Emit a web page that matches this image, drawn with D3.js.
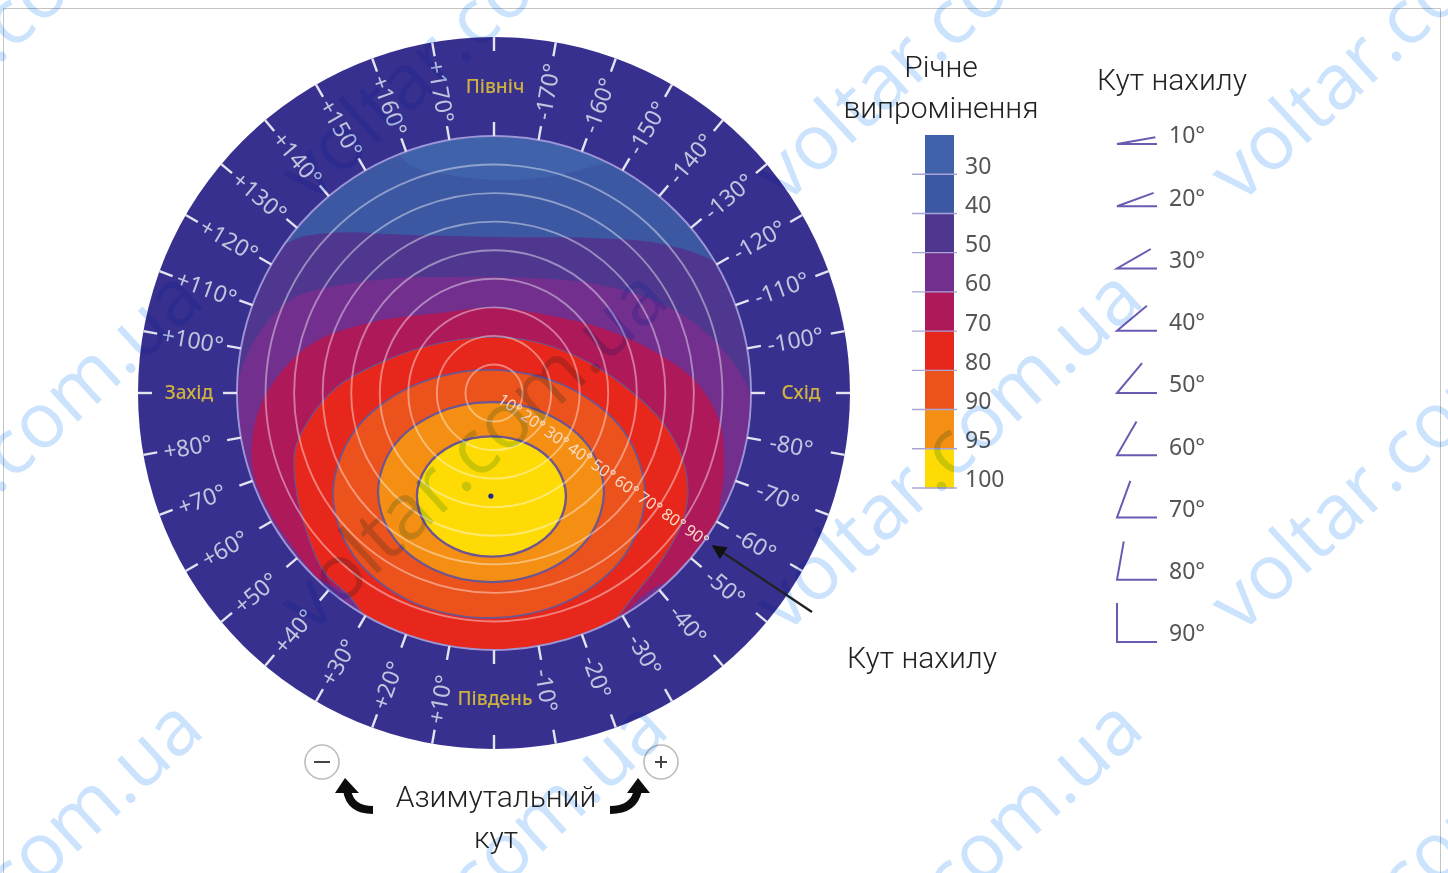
<!DOCTYPE html>
<html lang="uk">
<head>
<meta charset="utf-8">
<title>Річне випромінення</title>
<script src="https://cdn.jsdelivr.net/npm/d3@7"></script>
<style>
html,body{margin:0;padding:0;background:#fff;overflow:hidden}
svg{display:block}
text{font-family:"Noto Sans","Open Sans",sans-serif}
.head{font-family:"Roboto",sans-serif;font-weight:300;font-size:30px;fill:#222}
.soft{filter:blur(.55px)}
.wm{font-family:"Open Sans",sans-serif;font-size:77px;fill:#cbe3fd;mix-blend-mode:multiply}
</style>
</head>
<body>
<div id="chart"></div>
<script>
// ---------- data ----------
const tiltRings = [10, 20, 30, 40, 50, 60, 70, 80, 90];
const azimuthTicks = d3.range(-170, 190, 10);
const compass = [
  {az: 180, name: "Північ"}, {az: 90, name: "Захід"},
  {az: -90, name: "Схід"},   {az: 0, name: "Південь"}
];
const legendValues = [30, 40, 50, 60, 70, 80, 90, 95, 100];
const legendColors = ["#3f62aa", "#3c58a3", "#4f378f", "#722f8e", "#ae1959", "#e7271b", "#ec521c", "#f58f13", "#ffdb05"];

// contours: [east tilt component, south tilt component], degrees
const band30 = [[-31.2,-81.2],[-15.4,-76.3],[0,-74.6],[16.1,-75.3],[33.6,-79.1],[41.3,-82.3],[44.1,-102.6],[0,-109.6],[-39.9,-102.6]];
const band50 = [[0.4,-54.6],[33.6,-54.3],[57.1,-52.5],[78.1,-45.5],[103.6,-22.1],[107.1,37.5],[72.1,107.5],[0.4,114.5],[-71.4,107.5],[-106.4,37.5],[-102.9,-22.1],[-72.5,-52.5],[-57.4,-56],[-29.4,-55.3]];
const band60 = [[0.4,-40.6],[33.6,-38.5],[58.1,-31.5],[73.2,-22.1],[82.6,-12.3],[89.6,-0.4],[98.4,30.5],[72.1,93.5],[0.4,107.5],[-71.4,93.5],[-97.7,30.5],[-91.7,2.5],[-84.4,-17.5],[-71.4,-32.6],[-57.4,-37.1],[-34,-40.3],[-17.2,-40.6]];
const band70 = [[0.4,-29.8],[22.1,-26.6],[39.6,-22.1],[57.1,-14],[71.1,-3.5],[79.1,10.5],[80.5,27],[79.1,39.2],[77,53.2],[68.6,63.7],[58.1,67.2],[51.1,71.8],[37.1,86.5],[0.4,97],[-32.9,86.5],[-52.2,69.7],[-57.4,67.2],[-62,64.4],[-70.4,53.9],[-78.4,42],[-84.4,27],[-83.7,10.5],[-77.4,-3.5],[-63.4,-17.5],[-42.4,-24.9],[-18.9,-28]];
const band80 = [[0.4,-19.6],[16.1,-17.5],[33.6,-10.5],[48.7,0],[59.2,10.5],[66.2,23.5],[67.9,35.7],[65.8,45.5],[58.1,59.5],[48.7,71.4],[38.9,83.7],[23.1,97],[0.4,104],[-25.9,97],[-41.7,83],[-50.4,71.4],[-59.9,62],[-66.9,44.5],[-69.7,30.5],[-69.7,20],[-65.5,10.5],[-55,-2.1],[-37.5,-11.6],[-18.9,-17.5]];
const band90 = [[52.9,35.4],[45.5,13.5],[25.6,-2.2],[-1.8,-8.1],[-29.1,-2.2],[-49,13.5],[-56.4,35.4],[-49,57.2],[-29.1,73],[-1.8,78.8],[25.6,73],[45.5,57.2]];
const band95 = [[38.5,34.7],[33.3,18.9],[18.7,7.4],[-1.1,3.2],[-20.8,7.4],[-35.4,18.9],[-40.6,34.7],[-35.4,50.4],[-20.8,62],[-1.1,66.2],[18.7,62],[33.3,50.4]];
const band100 = [[25.2,36.2],[21.7,25.7],[12.3,18],[-0.9,15.2],[-14,18],[-23.5,25.7],[-27,36.2],[-23.5,46.7],[-14,54.4],[-0.9,57.3],[12.3,54.4],[21.7,46.7]];
const optimum = [-1.1, 36.1];
const watermarkX = [-155, 310, 785, 1240];
const watermarkY = [205, 635, 1065];

// ---------- layout ----------
const W = 1448, H = 873, cx = 494, cy = 393, R = 356, Ri = 257;
const rScale = d3.scaleLinear().domain([0, 90]).range([0, Ri]);
const xT = d3.scaleLinear().domain([-90, 90]).range([cx - Ri, cx + Ri]);
const yT = d3.scaleLinear().domain([-90, 90]).range([cy - Ri, cy + Ri]);
const rad = d => d * Math.PI / 180;
const polar = (az, r) => [cx - r * Math.sin(rad(az)), cy + r * Math.cos(rad(az))];

const svg = d3.select("#chart").append("svg").attr("width", W).attr("height", H).attr("viewBox", `0 0 ${W} ${H}`);

// frame
svg.append("path").attr("d", `M3.5 ${H} V8.5 H1440.5 V${H}`).attr("fill", "none").attr("stroke", "#c4c4c4").attr("stroke-width", 1);

const defs = svg.append("defs");
defs.append("clipPath").attr("id", "inner").append("circle").attr("cx", cx).attr("cy", cy).attr("r", Ri);
defs.append("marker").attr("id", "head").attr("viewBox", "0 0 10 10").attr("refX", 9).attr("refY", 5)
  .attr("markerWidth", 6.5).attr("markerHeight", 6).attr("markerUnits", "strokeWidth").attr("orient", "auto")
  .append("path").attr("d", "M0 0 L10 5 L0 10 Z").attr("fill", "#111");

const dial = svg.append("g").attr("class", "soft");
dial.append("circle").attr("cx", cx).attr("cy", cy).attr("r", R).attr("fill", "#38308f");

// contours
const closed = d3.line().x(d => xT(d[0])).y(d => yT(d[1])).curve(d3.curveCatmullRomClosed.alpha(0.5));
const plate = dial.append("g").attr("clip-path", "url(#inner)");
plate.append("circle").attr("cx", cx).attr("cy", cy).attr("r", Ri).attr("fill", legendColors[1]);
const bands = [
  {pts: band30, c: legendColors[0]},
  {pts: band50, c: legendColors[2]},
  {pts: band60, c: legendColors[3]},
  {pts: band70, c: legendColors[4]},
  {pts: band80, c: legendColors[5], line: 1.2},
  {pts: band90, c: legendColors[6], line: 1.8},
  {pts: band95, c: legendColors[7], line: 2.2},
  {pts: band100, c: legendColors[8], line: 2.4}
];
plate.selectAll("path.band").data(bands).join("path").attr("class", "band")
  .attr("d", d => closed(d.pts)).attr("fill", d => d.c)
  .attr("stroke", d => d.line ? "#6d5590" : "none").attr("stroke-width", d => d.line || 0);

// tilt rings
dial.selectAll("circle.ring").data(tiltRings).join("circle").attr("class", "ring")
  .attr("cx", cx).attr("cy", cy).attr("r", d => rScale(d)).attr("fill", "none")
  .attr("stroke", d => d === 90 ? "#9d96d6" : "#fff").attr("stroke-opacity", d => d === 90 ? 1 : 0.42).attr("stroke-width", 1.9);

dial.append("circle").attr("cx", cx).attr("cy", cy).attr("r", 2.6).attr("fill", "#1d2a8c")
  .attr("transform", `translate(${xT(optimum[0]) - cx},${yT(optimum[1]) - cy})`);

// azimuth ticks
const spokes = [[R - 14, R], [Ri, Ri + 14]];
dial.selectAll("g.spoke").data(azimuthTicks).join("g").attr("class", "spoke").each(function (az) {
  d3.select(this).selectAll("line").data(spokes).join("line")
    .attr("x1", s => polar(az, s[0])[0]).attr("y1", s => polar(az, s[0])[1])
    .attr("x2", s => polar(az, s[1])[0]).attr("y2", s => polar(az, s[1])[1])
    .attr("stroke", "#e4e3f0").attr("stroke-width", 2.4);
});

// azimuth labels, read radially
const named = new Set(compass.map(d => d.az));
dial.selectAll("text.az").data(azimuthTicks.filter(d => !named.has(d))).join("text").attr("class", "az")
  .attr("text-anchor", "middle").attr("dy", "0.36em").attr("font-size", 23).attr("fill", "#c3c4de")
  .attr("transform", az => {
    const plus = az > 0;
    const south = Math.abs(az) < 90;
    const r = south ? (plus ? 311 : 302) : 306;
    const [x, y] = polar(az, r);
    const s = Math.sin(rad(az)), c = Math.cos(rad(az));
    const ang = plus ? Math.atan2(-c, s) : Math.atan2(c, -s);
    return `translate(${x},${y}) rotate(${ang * 180 / Math.PI})`;
  })
  .text(az => (az > 0 ? "+" : "-") + Math.abs(az) + "°");

dial.selectAll("text.cp").data(compass).join("text").attr("class", "cp")
  .attr("text-anchor", "middle").attr("dy", "0.36em").attr("font-size", 19).attr("font-weight", 500).attr("fill", "#cdb33d")
  .attr("x", d => polar(d.az, 306)[0] + 1).attr("y", d => polar(d.az, 306)[1] - 1)
  .text(d => d.name);

// tilt labels along one azimuth
const tiltAz = -55;
dial.selectAll("text.tl").data(tiltRings).join("text").attr("class", "tl")
  .attr("text-anchor", "middle").attr("dy", "0.36em").attr("font-size", 16).attr("fill", "#f8dccb")
  .attr("transform", d => { const [x, y] = polar(tiltAz, rScale(d) - 9); return `translate(${x},${y}) rotate(35)`; })
  .text(d => d + "°");

// ---------- pointer ----------
svg.append("path").attr("class", "soft").attr("d", "M812 612 L713 546").attr("stroke", "#222").attr("stroke-width", 2.4)
  .attr("fill", "none").attr("marker-end", "url(#head)");

// ---------- colour legend ----------
const legY = d3.scaleLinear().domain([0, 9]).range([135, 488]);
const leg = svg.append("g").attr("class", "soft");
leg.selectAll("rect").data(legendValues).join("rect")
  .attr("x", 925).attr("width", 29).attr("y", (d, i) => legY(i)).attr("height", (d, i) => legY(i + 1) - legY(i) + 0.5)
  .attr("fill", (d, i) => legendColors[i]);
leg.selectAll("line").data(legendValues).join("line")
  .attr("x1", 912).attr("x2", 957).attr("y1", (d, i) => legY(i + 1)).attr("y2", (d, i) => legY(i + 1))
  .attr("stroke", "#a9a3d6").attr("stroke-width", 1.4);
leg.selectAll("text").data(legendValues).join("text")
  .attr("x", 965).attr("y", (d, i) => 135 + 39.1 * (i + 0.79)).attr("dy", "0.36em")
  .attr("font-size", 23).attr("fill", "#555").text(d => d);

// ---------- tilt legend ----------
const tiltY = d3.scaleLinear().domain([0, 8]).range([144, 642]);
const armLen = 39, apexX = 1117;
const tl = svg.append("g").attr("class", "soft");
tl.selectAll("path").data(tiltRings).join("path")
  .attr("d", (d, i) => {
    const y = tiltY(i);
    return `M${apexX + armLen * Math.cos(rad(d))} ${y - armLen * Math.sin(rad(d))} L${apexX} ${y} H${apexX + armLen + 1}`;
  })
  .attr("fill", "none").attr("stroke", "#6a5bb2").attr("stroke-width", 2);
tl.selectAll("text").data(tiltRings).join("text")
  .attr("x", 1169).attr("y", (d, i) => tiltY(i) - 9).attr("dy", "0.36em")
  .attr("font-size", 23).attr("fill", "#555").text(d => d + "°");

// ---------- headings ----------
const heads = [
  {t: "Річне", x: 941, y: 67}, {t: "випромінення", x: 941, y: 108},
  {t: "Кут нахилу", x: 1172, y: 80}, {t: "Кут нахилу", x: 922, y: 658},
  {t: "Азимутальний", x: 496, y: 797}, {t: "кут", x: 496, y: 838}
];
svg.selectAll("text.head").data(heads).join("text").attr("class", "head")
  .attr("x", d => d.x).attr("y", d => d.y).attr("dy", "0.34em").attr("text-anchor", "middle").text(d => d.t);

// ---------- azimuth direction signs ----------
const signs = svg.append("g").attr("class", "soft");
[{x: 322, plus: false}, {x: 661, plus: true}].forEach(s => {
  signs.append("circle").attr("cx", s.x).attr("cy", 762).attr("r", 17).attr("fill", "#fff").attr("stroke", "#bdbdbd").attr("stroke-width", 1.6);
  signs.append("path").attr("d", s.plus ? `M${s.x - 6} 762 H${s.x + 6} M${s.x} 756 V768` : `M${s.x - 8} 762 H${s.x + 8}`)
    .attr("stroke", "#444").attr("stroke-width", 2).attr("fill", "none");
});
signs.append("path").attr("d", "M373 810 Q350 810 347 790").attr("fill", "none").attr("stroke", "#0c0c0c").attr("stroke-width", 8);
signs.append("path").attr("d", "M345 778 L359 793 L335 793 Z").attr("fill", "#0c0c0c");
signs.append("path").attr("d", "M610 810 Q634 810 638 790").attr("fill", "none").attr("stroke", "#0c0c0c").attr("stroke-width", 8);
signs.append("path").attr("d", "M638 778 L650 793 L627 793 Z").attr("fill", "#0c0c0c");

// ---------- overlaid site mark ----------
watermarkY.forEach(y => watermarkX.forEach(x => {
  svg.append("text").attr("class", "wm").attr("transform", `translate(${x},${y}) rotate(-42.5)`).text("voltar.com.ua");
}));
</script>
</body>
</html>
